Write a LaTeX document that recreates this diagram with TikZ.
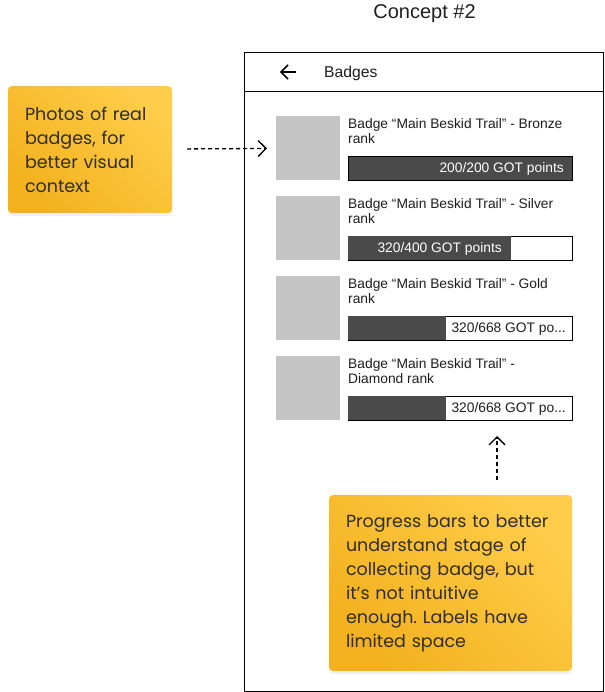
\documentclass[tikz,border=0pt]{standalone}
\usepackage{fontspec}
\setmainfont{Liberation Sans}
\newfontfamily\notefont{Poppins}
\usetikzlibrary{positioning,arrows.meta,shadows}
\definecolor{thumbgray}{HTML}{C4C4C4}
\definecolor{bardark}{HTML}{4A4A4A}
\definecolor{notelight}{HTML}{FFCD4A}
\definecolor{notedark}{HTML}{F3B11E}
\definecolor{notetext}{HTML}{2E2E2E}
\definecolor{uitext}{HTML}{1E1E1E}
\frenchspacing

\begin{document}
\begin{tikzpicture}[x=1pt,y=-1pt,
    note/.style={rounded corners=4pt,top color=notelight,bottom color=notedark,shading angle=-45,drop shadow={opacity=0.12,shadow xshift=0pt,shadow yshift=-3pt},align=left,inner xsep=17pt,inner ysep=0pt,font=\notefont\fontsize{17.5}{24}\selectfont,text=notetext},
    thumb/.style={fill=thumbgray,minimum size=64pt,inner sep=0pt,anchor=north west},
    badge/.style={anchor=north west,inner sep=0pt,align=left,text=uitext,font=\fontsize{13.8}{15.3}\selectfont},
    bar/.style={draw=black,fill=white,line width=0.8pt,minimum width=224pt,minimum height=24pt,inner sep=0pt,anchor=north west},
    pts/.style={anchor=east,inner sep=0pt,font=\fontsize{13.8}{16}\selectfont},
    hint/.style={dash pattern=on 4pt off 3pt,line width=1.3pt,-{Straight Barb[length=8pt,width=16pt]}}
  ]
    \useasboundingbox (0,0) rectangle (604,692);

    % Title and phone frame
    \node[font=\fontsize{20}{22}\selectfont,text=uitext] (title) at (424.5,13.5) {Concept \#2};
    \node[draw,line width=1pt,minimum width=359pt,minimum height=638.5pt,inner sep=0pt,anchor=north west] (phone) at (244,52) {};
    \draw[line width=1pt] ([yshift=-40pt]phone.north west) -- ([yshift=-40pt]phone.north east);

    % Header bar
    \draw[line width=1.6pt] (296,72) -- (281,72);
    \draw[line width=1.6pt] (288,65) -- (281,72) -- (288,79);
    \node[anchor=west,inner sep=0pt,text=uitext,font=\fontsize{15.7}{17}\selectfont] (hdr) at (324,73) {Badges};

    % Bronze
    \node[thumb] (img1) at (276,116) {};
    \node[badge] (name1) at (348,118) {Badge “Main Beskid Trail” - Bronze\\rank};
    \node[bar,fill=bardark] (bar1) at (348,156) {};
    \node[pts,text=white] (pts1) at (564,169) {200/200 GOT points};

    % Silver
    \node[thumb] (img2) at (276,196) {};
    \node[badge] (name2) at (348,198) {Badge “Main Beskid Trail” - Silver\\rank};
    \node[bar] (bar2) at (348,236) {};
    \fill[bardark] (bar2.north west) rectangle (510.7,260);
    \node[pts,text=white] (pts2) at (502,249) {320/400 GOT points};

    % Gold
    \node[thumb] (img3) at (276,276) {};
    \node[badge] (name3) at (348,278) {Badge “Main Beskid Trail” - Gold\\rank};
    \node[bar] (bar3) at (348,316) {};
    \fill[bardark] (bar3.north west) rectangle (446,340);
    \node[pts,text=uitext] (pts3) at (566,329) {320/668 GOT po...};

    % Diamond
    \node[thumb] (img4) at (276,356) {};
    \node[badge] (name4) at (348,358) {Badge “Main Beskid Trail” -\\Diamond rank};
    \node[bar] (bar4) at (348,396) {};
    \fill[bardark] (bar4.north west) rectangle (446,420);
    \node[pts,text=uitext] (pts4) at (566,409) {320/668 GOT po...};

    % Sticky notes
    \node[note,text width=130pt,minimum height=127pt] (note1) at (90,149.5) {Photos of real\\badges, for\\better visual\\context};
    \node[note,text width=209pt,minimum height=176pt] (note2) at (450.5,583) {Progress bars to better\\understand stage of\\collecting badge, but\\it’s not intuitive\\enough. Labels have\\limited space};

    % Pointers
    \coordinate (tip) at (497,436);
    \draw[hint,shorten <=15pt,shorten >=9pt] (note1) -- (img1);
    \draw[hint,shorten <=15pt] (note2.north -| tip) -- (tip);
  \end{tikzpicture}
\end{document}
